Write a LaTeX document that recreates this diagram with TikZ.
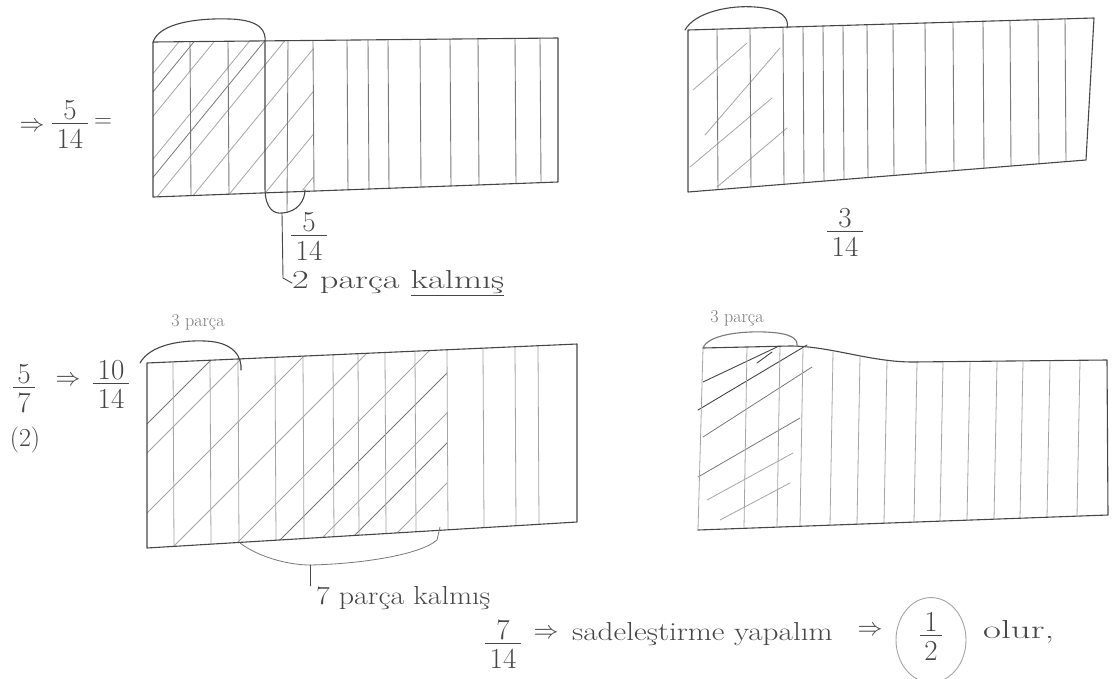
\documentclass[tikz,border=0pt]{standalone}
\usepackage{fontspec}
\usepackage{graphicx}
\usetikzlibrary{shapes.geometric}
\definecolor{pencil}{RGB}{70,70,70}
\definecolor{lightpencil}{RGB}{165,165,165}
\definecolor{midpencil}{RGB}{120,120,120}
\setlength\arrayrulewidth{0.9pt}
\newcommand\hfr[2]{\begin{tabular}{@{\,}c@{\,}}#1\\[-0.2em]\hline\rule{0pt}{0.85em}#2\end{tabular}}
\begin{document}
\begin{tikzpicture}[x=1pt,y=-1pt, line cap=round, line join=round,
  box/.style={draw=pencil, line width=1.1pt},
  div/.style={draw=midpencil, line width=0.9pt},
  ldiv/.style={draw=lightpencil, line width=0.8pt},
  hatch/.style={draw=lightpencil, line width=0.8pt},
  mhatch/.style={draw=midpencil, line width=0.8pt},
  dhatch/.style={draw=pencil, line width=0.9pt},
  loopc/.style={draw=pencil, line width=1.1pt},
  hw/.style={text=pencil, inner sep=0pt, font=\fontsize{26}{28}\selectfont},
  hws/.style={text=midpencil, inner sep=0pt, font=\fontsize{18}{20}\selectfont},
  fr/.style={text=pencil, inner sep=0pt, font=\fontsize{29}{31}\selectfont},
  ar/.style={text=pencil, inner sep=0pt, font=\fontsize{24}{26}\selectfont}]
\useasboundingbox (0,0) rectangle (1114,678);

% ---------------- rectangle 1 (top left) ----------------
\begin{scope}
\clip (153,42) -- (313,40) -- (313,190) -- (153,197) -- cycle;
\foreach \a in {-10,25,60,95,130,165,200,235,270}
  \draw[hatch] (\a,230) -- (\a+180,10);
\foreach \a in {-30,40,110}
  \draw[mhatch] (\a,230) -- (\a+180,10);
\end{scope}
\foreach \x in {190,228,313,347,368,388,420,450,478,515,540}
  \draw[div] (\x,{42-4*(\x-153)/405}) -- (\x+1,{197-15*(\x-153)/405});
\draw[div] (288,41) -- (287,212);
\draw[box] (153,42) -- (558,38) -- (558,182) -- (153,197) -- cycle;
\draw[loopc] (153,42) .. controls (160,22) and (200,18) .. (230,19)
  .. controls (262,20) and (266,32) .. (265,42) -- (265,188)
  .. controls (265,210) and (275,214) .. (282,213) coordinate (u1)
  .. controls (298,212) and (305,200) .. (305,190);
\node[fr] (f1) at (309,240) {\hfr{5}{14}};
\node[hw, anchor=west] (t1) at (292,283) {\scalebox{1.4}[1]{2 par\c{c}a \underline{kalm\i\c{s}}}};
\draw[loopc, line width=0.9pt] (u1) -- (283,278) -- (t1.west);

\node[ar] (l1) at (32,127) {$\Rightarrow$};
\node[fr] (f0) at (70,128) {\hfr{5}{14}};
\node[ar] (e0) at (103,123) {$=$};

% ---------------- rectangle 2 (top right) ----------------
\draw[hatch] (693,90) -- (747,43);
\draw[hatch] (705,135) -- (780,48);
\draw[hatch] (690,167) -- (772,98);
\draw[hatch] (717,187) -- (787,128);
\foreach \x in {717,750,783,803,823,843,867,893,925,953,983,1010,1038,1065}
  \draw[div] (\x,{30-12*(\x-688)/406}) -- (\x+1,{192-32*(\x-688)/396});
\draw[box] (688,30) -- (1094,18) -- (1086,160) -- (688,192) -- cycle;
\draw[loopc] (685,30) .. controls (695,12) and (730,5) .. (755,7)
  .. controls (785,9) and (789,20) .. (787,28);
\node[fr] (f2) at (845,236) {\hfr{3}{14}};

% ---------------- rectangle 3 (bottom left) ----------------
\begin{scope}
\clip (147,363) -- (447,350) -- (447,530) -- (147,548) -- cycle;
\foreach \a in {40,100,160,220,300,370}
  \draw[hatch] (\a,560) -- (\a+300,260);
\foreach \a in {11,260,330}
  \draw[mhatch] (\a,560) -- (\a+300,260);
\end{scope}
\foreach \x in {173,210,238,275,303,333,358,385,415,447,483,515,538}
  \draw[ldiv] (\x,{363-19*(\x-147)/430}) -- (\x+1,{548-26*(\x-147)/430});
\draw[box] (147,363) -- (577,344) -- (577,522) -- (147,548) -- cycle;
\draw[loopc] (140,363) .. controls (150,345) and (180,340) .. (205,341)
  .. controls (235,342) and (242,358) .. (241,370);
\node[hws] (p3) at (198,322) {3 par\c{c}a};
\draw[loopc, line width=0.8pt, draw=midpencil] (240,543) .. controls (260,558) and (290,565) .. (310,565) coordinate (u3)
  .. controls (360,564) and (420,555) .. (437,540) -- (440,527);
\node[hw, anchor=west] (t3) at (316,598) {\scalebox{1.15}[1]{7 par\c{c}a kalm\i\c{s}}};
\draw[loopc, line width=0.9pt] (u3) -- (310,586);

\node[fr] (f3) at (24,392) {\hfr{5}{7}};
\node[hw] (n3) at (25,440) {(2)};
\node[ar] (l3) at (68,381) {$\Rightarrow$};
\node[fr] (f4) at (111,388) {\hfr{10}{14}};

% ---------------- rectangle 4 (bottom right) ----------------
\draw[dhatch] (703,382) -- (777,347);
\draw[dhatch] (698,410) -- (807,345);
\draw[dhatch] (757,363) -- (772,352);
\draw[mhatch] (703,437) -- (812,367);
\draw[mhatch] (698,477) -- (800,418);
\draw[hatch] (707,500) -- (793,453);
\draw[hatch] (720,520) -- (790,483);
\foreach \x/\t in {747/347,780/346,803/348,833/352,860/357,887/360,917/362,943/362,970/362,997/362,1023/362,1050/361,1080/361}
  \draw[ldiv] (\x,\t) -- (\x-3,{530-15*(\x-698)/410});
\draw[box] (703,348) -- (790,346) .. controls (830,346) and (870,362) .. (913,362)
  -- (1107,360) -- (1108,515) -- (698,530);
\draw[ldiv] (698,530) -- (703,348);
\draw[loopc, draw=midpencil] (703,348) .. controls (708,335) and (740,331) .. (765,332)
  .. controls (790,333) and (798,338) .. (797,346);
\node[hws] (p4) at (737,318) {3 par\c{c}a};

% ---------------- bottom line ----------------
\node[fr] (f5) at (503,648) {\hfr{7}{14}};
\node[ar] (l5) at (546,634) {$\Rightarrow$};
\node[hw, anchor=west] (t5) at (572,634) {\scalebox{1.2}[1]{sadele\c{s}tirme yapal\i m}};
\node[ar] (l6) at (870,631) {$\Rightarrow$};
\node[fr, draw=lightpencil, line width=0.9pt, ellipse, minimum width=70pt, minimum height=68pt, inner sep=0pt] (f6) at (931,640) {\hfr{1}{2}};
\node[hw, anchor=west] (t6) at (983,632) {\scalebox{1.5}[1]{olur,}};
\end{tikzpicture}
\end{document}
